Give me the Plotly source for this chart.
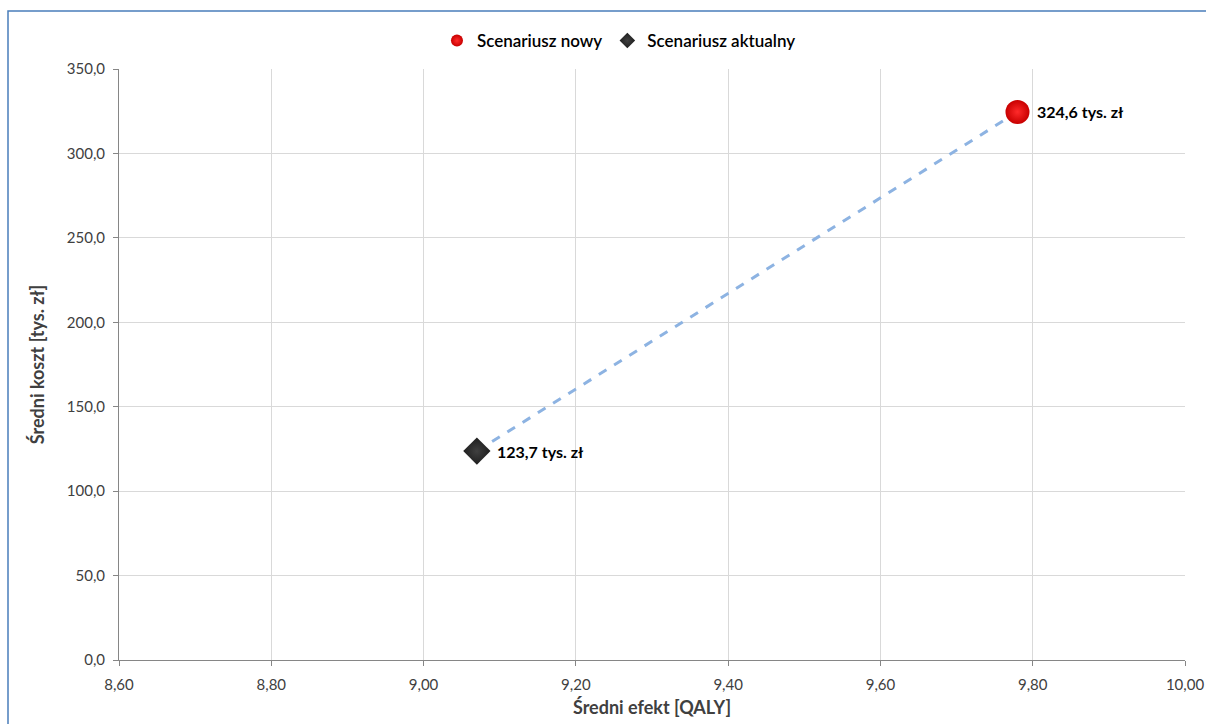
import plotly.graph_objects as go

series_names = ["Scenariusz nowy", "Scenariusz aktualny"]
effects = [9.78, 9.07]          # Średni efekt [QALY]
costs = [324.6, 123.7]          # Średni koszt [tys. zł]
labels = ["324,6 tys. zł", "123,7 tys. zł"]
x_ticks = [8.6, 8.8, 9.0, 9.2, 9.4, 9.6, 9.8, 10.0]
y_ticks = [0, 50, 100, 150, 200, 250, 300, 350]

FONT = "Lato, 'Open Sans', sans-serif"

fig = go.Figure()

# dashed connecting line
fig.add_trace(go.Scatter(
    x=[effects[1], effects[0]], y=[costs[1], costs[0]], mode="lines",
    line=dict(color="#8db3e2", width=3, dash="dash"),
    showlegend=False, hoverinfo="skip"))

# Scenariusz nowy
fig.add_trace(go.Scatter(
    x=[effects[0]], y=[costs[0]], mode="markers", name=series_names[0],
    marker=dict(symbol="circle", size=24, color="#c80000",
                gradient=dict(type="radial", color="#ff2a2a"),
                line=dict(width=0))))
# Scenariusz aktualny
fig.add_trace(go.Scatter(
    x=[effects[1]], y=[costs[1]], mode="markers", name=series_names[1],
    marker=dict(symbol="diamond", size=21, color="#1e1e1e",
                gradient=dict(type="radial", color="#404040"),
                line=dict(width=0))))

# data labels
for xv, yv, t in zip(effects, costs, labels):
    fig.add_annotation(x=xv, y=yv, text=t, showarrow=False,
                       xanchor="left", yanchor="middle", xshift=18,
                       font=dict(family=FONT, size=16, color="#000000", weight="bold"))

fig.update_layout(
    width=1206, height=724,
    margin=dict(l=119, r=21, t=69, b=64),
    paper_bgcolor="white", plot_bgcolor="white",
    separators=", ",
    font=dict(family=FONT, color="#404040", size=15),
    legend=dict(orientation="h", x=0.469, xanchor="center",
                yref="container", y=1 - 41 / 724, yanchor="middle",
                bgcolor="rgba(0,0,0,0)",
                font=dict(family=FONT, size=17, color="#000000", weight=600),
                itemsizing="constant", itemwidth=30, traceorder="normal"),
    showlegend=True,
)

fig.update_xaxes(
    range=[8.6, 10.0], tickvals=x_ticks, tickformat=".2f",
    showgrid=True, gridcolor="#d9d9d9", gridwidth=1,
    showline=True, linecolor="#868686", linewidth=1,
    ticks="outside", ticklen=5, tickcolor="#868686",
    zeroline=False, automargin=False, ticklabelstandoff=6,
    title=dict(text="Średni efekt [QALY]", standoff=9,
               font=dict(family=FONT, size=18, color="#404040", weight="bold")),
    tickfont=dict(family=FONT, size=15, color="#404040"))

fig.update_yaxes(
    range=[0, 350], tickvals=y_ticks, tickformat=".1f",
    showgrid=True, gridcolor="#d9d9d9", gridwidth=1,
    showline=True, linecolor="#868686", linewidth=1,
    ticks="outside", ticklen=5, tickcolor="#868686",
    zeroline=False, automargin=False, ticklabelstandoff=5,
    title=dict(text="Średni koszt [tys. zł]", standoff=17,
               font=dict(family=FONT, size=18, color="#404040", weight="bold")),
    tickfont=dict(family=FONT, size=15, color="#404040"))

# outer chart border (blue, partially visible)
fig.add_shape(type="rect", xref="paper", yref="paper",
              x0=(8 - 119) / 1066, x1=1.2, y0=-0.3, y1=(660 - 11) / 591,
              line=dict(color="#4a7ebb", width=1.5), layer="below")

fig.write_html("out.html")
